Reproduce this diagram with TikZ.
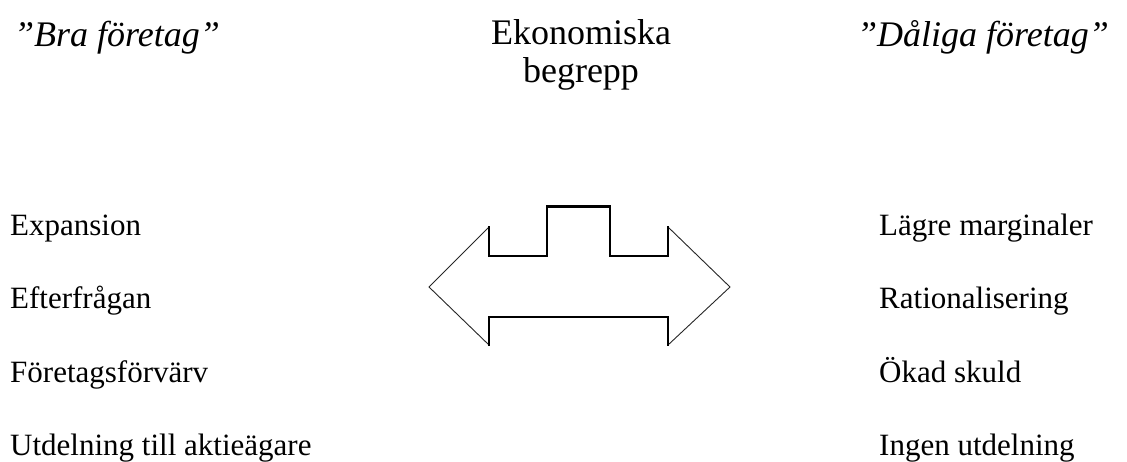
\documentclass[tikz,border=0pt]{standalone}
\usepackage{fontspec}
\setmainfont{Liberation Serif}
\begin{document}
\begin{tikzpicture}[x=1pt,y=-1pt,
  lbl/.style={anchor=base west,inner sep=0pt,font=\fontsize{31}{36}\selectfont},
  ttl/.style={anchor=base west,inner sep=0pt,font=\fontsize{36}{40}\itshape},
  ctr/.style={anchor=base,inner sep=0pt,font=\fontsize{36}{40}\selectfont},
  edge/.style={line width=2pt,line cap=rect},
  diag/.style={line width=0.9pt,black!85}]
\useasboundingbox (0,0) rectangle (1127,461);
% titles
\node[ttl] (t1) at (14,46) {\fontsize{36}{40}\selectfont\itshape ”Bra företag”};
\node[ctr] (t2) at (581,44) {Ekonomiska};
\node[ctr] (t3) at (581,82) {begrepp};
\node[ttl] (t4) at (857,46) {\fontsize{36}{40}\selectfont\itshape ”Dåliga företag”};
% left column
\node[lbl] (l1) at (10,235) {Expansion};
\node[lbl] (l2) at (10,308) {Efterfrågan};
\node[lbl] (l3) at (10,382) {Företagsförvärv};
\node[lbl] (l4) at (10,455) {Utdelning till aktieägare};
% right column
\node[lbl] (r1) at (879,235) {Lägre marginaler};
\node[lbl] (r2) at (879,308) {Rationalisering};
\node[lbl] (r3) at (879,382) {Ökad skuld};
\node[lbl] (r4) at (879,455) {Ingen utdelning};
% double arrow
\coordinate (lt) at (429,287);
\coordinate (lb1) at (489,227);
\coordinate (lb2) at (489,345);
\coordinate (rt) at (730,287);
\coordinate (rb1) at (668,227);
\coordinate (rb2) at (668,345);
\draw[diag] (lb1) -- (lt) -- (lb2);
\draw[diag] (rb1) -- (rt) -- (rb2);
\draw[edge] (lb1) -- (489,256) -- (547,256) -- (547,206);
\draw[line width=3pt] (546,206) -- (611,206);
\draw[edge] (610,206) -- (610,256) -- (668,256) -- (rb1);
\draw[edge] (lb2) -- (489,317) -- (668,317) -- (rb2);
\end{tikzpicture}
\end{document}
